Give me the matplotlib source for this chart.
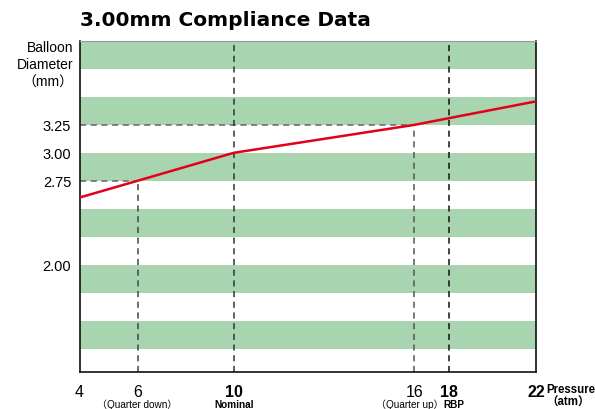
import numpy as np
import matplotlib
matplotlib.use('Agg')
from matplotlib import pyplot as plt
from matplotlib.transforms import blended_transform_factory, ScaledTranslation

plt.rcParams['font.family'] = ['Liberation Sans', 'Noto Sans CJK JP']

# compliance curve
pressure = [4, 6, 10, 16, 18, 22]
diameter = [2.60, 2.75, 3.00, 3.25, 3.31, 3.46]

# axis labels
x_ticks = [4, 6, 10, 16, 18, 22]
x_bold = [False, False, True, False, True, True]
x_sub = {6: ('（Quarter down）', 'normal'), 10: ('Nominal', 'bold'),
         16: ('（Quarter up）', 'normal'), 18: ('RBP', 'bold')}
y_ticks = [2.00, 2.75, 3.00, 3.25]
band_lo = [1.25, 1.75, 2.25, 2.75, 3.25, 3.75]

# the printed chart does not space pressures evenly
x_pos = [0, 58, 154, 334.5, 369, 456]


def fwd(x):
    return np.interp(x, x_ticks, x_pos, left=-1e9, right=1e9)


def inv(p):
    return np.interp(p, x_pos, x_ticks)


fig = plt.figure(figsize=(5.95, 4.1), dpi=100)
ax = fig.add_axes([79.5 / 595, 1 - 373 / 410, (536 - 79.5) / 595, (373 - 42) / 410])
ax.set_xscale('function', functions=(fwd, inv))
ax.set_xlim(4, 22)
ax.set_ylim(1.04, 4.0)

for lo in band_lo:
    ax.axhspan(lo, lo + 0.25, color='#a8d5b0', lw=0, zorder=0)

dash = dict(ls=(0, (4, 3)), lw=1.1, zorder=2)
ax.plot([4, 6], [2.75, 2.75], color='#666666', **dash)
ax.plot([4, 16], [3.25, 3.25], color='#666666', **dash)
ax.plot([6, 6], [1.04, 2.75], color='#444444', **dash)
ax.plot([16, 16], [1.04, 3.25], color='#555555', **dash)
ax.plot([10, 10], [1.04, 4.0], color='#333333', **dash)
ax.plot([18, 18], [1.04, 4.0], color='#111111', **dash)

ax.plot(pressure, diameter, color='#e2001a', lw=1.8, zorder=3)

for s in ['left', 'bottom', 'right']:
    ax.spines[s].set_color('#111111')
    ax.spines[s].set_linewidth(1.2)
ax.spines['top'].set_color('#999999')
ax.spines['top'].set_linewidth(0.8)

ax.set_yticks(y_ticks)
ax.set_yticklabels(['%.2f' % v for v in y_ticks], fontsize=10.5)
ax.tick_params(axis='y', length=0, pad=6)
ax.set_xticks(x_ticks)
ax.set_xticklabels([str(v) for v in x_ticks], fontsize=11.5)
for lab, b in zip(ax.get_xticklabels(), x_bold):
    if b:
        lab.set_fontweight('bold')
ax.tick_params(axis='x', length=0, pad=9)
ax.minorticks_off()

tr = blended_transform_factory(ax.transData, ax.transAxes)
shift = {16: -5, 18: 5}
for x, (txt, w) in x_sub.items():
    t_tr = tr + ScaledTranslation(shift.get(x, 0) / 100, 0, fig.dpi_scale_trans)
    ax.text(x, -0.097, txt, transform=t_tr, ha='center', va='center',
            fontsize=7.2, fontweight=w)

ax.text(546 / 595, 1 - 390 / 410, 'Pressure', transform=fig.transFigure, ha='left',
        va='center', fontsize=8.3, fontweight='bold')
ax.text(568 / 595, 1 - 403 / 410, '（atm）', transform=fig.transFigure, ha='center',
        va='center', fontsize=8.3, fontweight='bold')

fig.text(73 / 595, 1 - 41 / 410, 'Balloon\nDiameter\n（mm）', ha='right', va='top',
         fontsize=10, linespacing=1.3)
fig.text(80 / 595, 1 - 20 / 410, '3.00mm Compliance Data', ha='left', va='center',
         fontsize=14.5, fontweight='bold', family='DejaVu Sans')

fig.savefig('out.png', dpi=100)
